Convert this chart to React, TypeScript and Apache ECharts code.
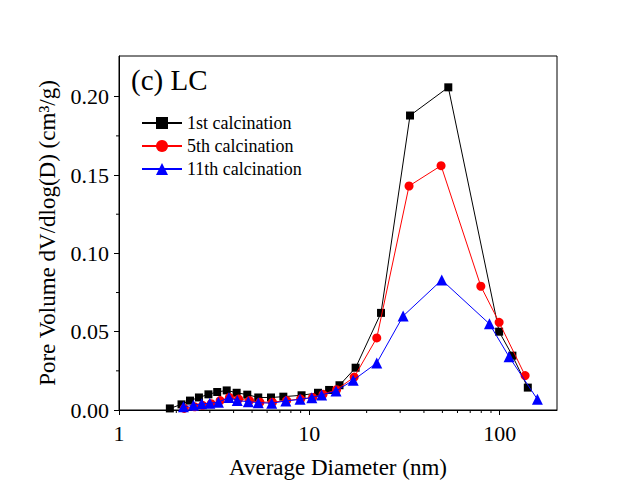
import React, { useEffect, useRef } from "react";
import * as echarts from "echarts";

const diam1 = [1.85, 2.13, 2.36, 2.63, 2.95, 3.28, 3.68, 4.15, 4.72, 5.39, 6.29, 7.3, 9.1, 11.1, 12.7, 14.4, 17.5, 23.8, 33.8, 53.7, 99.3, 116.6, 140.5];
const vol1 = [0.001, 0.0036, 0.006, 0.008, 0.01, 0.0115, 0.0125, 0.011, 0.0098, 0.008, 0.008, 0.0085, 0.0094, 0.011, 0.0128, 0.0158, 0.027, 0.062, 0.188, 0.206, 0.05, 0.0347, 0.0143];

const diam5 = [2.2, 2.5, 2.75, 3.05, 3.4, 3.8, 4.25, 4.85, 5.5, 6.4, 7.6, 9.0, 10.4, 11.8, 13.9, 17.2, 22.6, 33.4, 49.2, 79.6, 99.3, 136];
const vol5 = [0.001, 0.002, 0.003, 0.004, 0.006, 0.008, 0.007, 0.006, 0.005, 0.005, 0.006, 0.007, 0.008, 0.01, 0.013, 0.021, 0.046, 0.143, 0.156, 0.079, 0.056, 0.022];

const diam11 = [2.18, 2.46, 2.72, 3.0, 3.33, 3.78, 4.18, 4.78, 5.39, 6.34, 7.52, 8.94, 10.3, 11.6, 13.8, 17.0, 22.6, 31.1, 49.6, 88.3, 112, 157.8];
const vol11 = [0.002, 0.003, 0.004, 0.0043, 0.005, 0.008, 0.006, 0.0053, 0.0047, 0.0043, 0.0058, 0.0068, 0.0079, 0.0096, 0.0121, 0.019, 0.03, 0.06, 0.083, 0.055, 0.034, 0.0068];

const seriesNames = ["1st calcination", "5th calcination", "11th calcination"];
const xMinorTicks = [2, 3, 4, 5, 6, 7, 8, 9, 20, 30, 40, 50, 60, 70, 80, 90];
const yMinorTicks = [0.025, 0.075, 0.125, 0.175];

const FONT = "'Liberation Serif', 'Times New Roman', serif";

function zip(xs: number[], ys: number[]) {
  return xs.map((x, i) => [x, ys[i]]);
}

export default function App() {
  const ref = useRef<HTMLDivElement>(null);
  useEffect(() => {
    if (!ref.current) return;
    const chart = echarts.init(ref.current, null, { renderer: "svg" });
    const minorData = [
      ...xMinorTicks.map((v) => [v, 0, 0]),
      ...yMinorTicks.map((v) => [1, v, 1]),
    ];
    chart.setOption({
      animation: false,
      backgroundColor: "#fff",
      title: {
        text: "(c) LC",
        left: 126,
        top: 60,
        textStyle: { fontFamily: FONT, fontSize: 29, fontWeight: "normal", color: "#000" },
      },
      legend: {
        orient: "vertical",
        left: 136,
        top: 109,
        itemWidth: 40,
        itemHeight: 15,
        itemGap: 5,
        data: seriesNames,
        textStyle: { fontFamily: FONT, fontSize: 18, color: "#000", lineHeight: 18 },
      },
      grid: {
        left: 119,
        top: 56,
        width: 438,
        height: 354,
        show: true,
        borderColor: "#000",
        borderWidth: 1,
        backgroundColor: "transparent",
      },
      xAxis: {
        type: "log",
        logBase: 10,
        min: 1,
        max: 200,
        name: "Average Diameter (nm)",
        nameLocation: "middle",
        nameGap: 46,
        nameTextStyle: { fontFamily: FONT, fontSize: 23, color: "#000" },
        axisLine: { show: true, lineStyle: { color: "#000", width: 1 } },
        axisTick: { show: true, length: 5, lineStyle: { color: "#000" } },
        axisLabel: { fontFamily: FONT, fontSize: 22, color: "#000", margin: 12, showMaxLabel: false },
        splitLine: { show: false },
      },
      yAxis: {
        type: "value",
        min: 0,
        max: 0.226,
        interval: 0.05,
        name: "Pore Volume dV/dlog(D) (cm³/g)",
        nameLocation: "middle",
        nameGap: 60,
        nameTextStyle: { fontFamily: FONT, fontSize: 23, color: "#000" },
        axisLine: { show: true, lineStyle: { color: "#000", width: 1 } },
        axisTick: { show: true, length: 5, lineStyle: { color: "#000" } },
        axisLabel: {
          fontFamily: FONT,
          fontSize: 22,
          color: "#000",
          margin: 10,
          showMaxLabel: false,
          formatter: (v: number) => v.toFixed(2),
        },
        splitLine: { show: false },
      },
      series: [
        {
          name: seriesNames[0],
          type: "line",
          data: zip(diam1, vol1),
          symbol: "rect",
          symbolSize: 8,
          color: "#000000",
          lineStyle: { width: 1, color: "#000000" },
          itemStyle: { color: "#000000" },
          z: 3,
        },
        {
          name: seriesNames[1],
          type: "line",
          data: zip(diam5, vol5),
          symbol: "circle",
          symbolSize: 9,
          color: "#ff0000",
          lineStyle: { width: 1, color: "#ff0000" },
          itemStyle: { color: "#ff0000" },
          z: 4,
        },
        {
          name: seriesNames[2],
          type: "line",
          data: zip(diam11, vol11),
          symbol: "triangle",
          symbolSize: 11,
          color: "#0000ff",
          lineStyle: { width: 1, color: "#0000ff" },
          itemStyle: { color: "#0000ff" },
          z: 5,
        },
        {
          name: "minorTicks",
          type: "custom",
          silent: true,
          clip: false,
          data: minorData,
          renderItem: (params: any, api: any) => {
            const p = api.coord([api.value(0), api.value(1)]);
            const isY = api.value(2) === 1;
            return {
              type: "line",
              shape: isY
                ? { x1: p[0], y1: p[1], x2: p[0] - 3, y2: p[1] }
                : { x1: p[0], y1: p[1], x2: p[0], y2: p[1] + 3 },
              style: { stroke: "#000", lineWidth: 1 },
            };
          },
        },
      ],
    });
    return () => chart.dispose();
  }, []);
  return (
    <div
      ref={ref}
      style={{ position: "absolute", left: 0, top: 0, width: 637, height: 486 }}
    />
  );
}
